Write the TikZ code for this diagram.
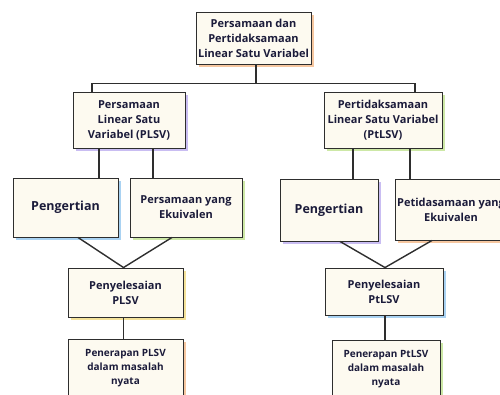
\documentclass[tikz,border=0pt]{standalone}
\usepackage{fontspec}
\setmainfont{Open Sans}
\usetikzlibrary{shadows}
\definecolor{kertas}{HTML}{FDFAF0}
\definecolor{garis}{HTML}{2E2E2E}
\definecolor{tinta}{HTML}{1B1B3A}
\definecolor{jingga}{HTML}{F6C7A0}
\definecolor{ungu}{HTML}{C9BDF2}
\definecolor{hijau}{HTML}{CDE8A6}
\definecolor{biru}{HTML}{A9D2F2}
\definecolor{kuning}{HTML}{F4E29A}
\tikzset{
  kotak/.style={draw=garis, line width=0.9pt, fill=kertas, text=tinta,
    align=center, inner sep=1pt, font=\bfseries\fontsize{11}{15}\selectfont,
    general shadow={fill=#1, shadow xshift=2.5pt, shadow yshift=-2.5pt}},
  besar/.style={font=\bfseries\fontsize{12.5}{15}\selectfont},
  kecil/.style={font=\bfseries\fontsize{10}{14}\selectfont},
  hubung/.style={draw=garis, line width=1.4pt}
}
\begin{document}
\begin{tikzpicture}[x=1pt,y=-1pt]
  \useasboundingbox (0,0) rectangle (500,394);

  % Judul
  \node[kotak=jingga, minimum width=115pt, minimum height=52pt] (top) at (253.5,38)
    {Persamaan dan\\Pertidaksamaan\\Linear Satu Variabel};

  % Baris kedua
  \node[kotak=ungu, minimum width=112pt, minimum height=56pt] (plsv) at (129,120)
    {Persamaan\\Linear Satu\\Variabel (PLSV)};
  \node[kotak=hijau, minimum width=118pt, minimum height=56pt] (ptlsv) at (383,120)
    {Pertidaksamaan\\Linear Satu Variabel\\(PtLSV)};

  % Baris ketiga
  \node[kotak=biru, besar, minimum width=105pt, minimum height=59pt] (peng1) at (65.5,207.5)
    {Pengertian};
  \node[kotak=hijau, minimum width=112pt, minimum height=59pt] (pers) at (186,207.5)
    {Persamaan yang\\Ekuivalen};
  \node[kotak=ungu, besar, minimum width=98pt, minimum height=62pt] (peng2) at (329,210)
    {Pengertian};
  \node[kotak=jingga, minimum width=112pt, minimum height=61pt] (ptid) at (451,209.5)
    {Petidasamaan yang\\Ekuivalen};

  % Penyelesaian
  \node[kotak=kuning, minimum width=115pt, minimum height=49pt] (pen1) at (125.5,292.5)
    {Penyelesaian\\PLSV};
  \node[kotak=biru, minimum width=118pt, minimum height=47pt] (pen2) at (384,291.5)
    {Penyelesaian\\PtLSV};

  % Penerapan
  \node[kotak=jingga, kecil, minimum width=115pt, minimum height=58pt] (ap1) at (125.5,368)
    {Penerapan PLSV\\dalam masalah\\nyata};
  \node[kotak=hijau, kecil, minimum width=108pt, minimum height=58pt] (ap2) at (386,369)
    {Penerapan PtLSV\\dalam masalah\\nyata};

  % Garis penghubung
  \draw[hubung] ([xshift=2.5pt]top.south) -- ++(0,19) coordinate (hub);
  \draw[hubung] ([xshift=-37pt]plsv.north) |- (hub) -| ([xshift=32pt]ptlsv.north);
  \draw[hubung] ([xshift=-30pt]plsv.south) -- ([xshift=-30pt]plsv.south |- peng1.north);
  \draw[hubung] ([xshift=24pt]plsv.south) -- ([xshift=24pt]plsv.south |- pers.north);
  \draw[hubung] ([xshift=-30pt]ptlsv.south) -- ([xshift=-30pt]ptlsv.south |- peng2.north);
  \draw[hubung] ([xshift=27pt]ptlsv.south) -- ([xshift=27pt]ptlsv.south |- ptid.north);
  \draw[hubung] ([xshift=12.5pt]peng1.south) -- ([xshift=-2pt]pen1.north)
    -- ([xshift=-14pt]pers.south);
  \draw[hubung] ([xshift=11pt]peng2.south) -- ([xshift=1pt]pen2.north)
    -- ([xshift=-19pt]ptid.south);
  \draw[hubung] ([xshift=-2pt]pen1.south) -- ([xshift=-2pt]pen1.south |- ap1.north);
  \draw[hubung] ([xshift=1pt]pen2.south) -- ([xshift=1pt]pen2.south |- ap2.north);
\end{tikzpicture}
\end{document}
